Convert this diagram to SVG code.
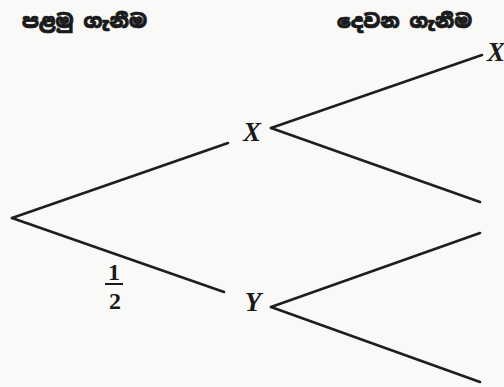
<svg xmlns="http://www.w3.org/2000/svg" width="504" height="387" viewBox="0 0 504 387">
<style>
.edge{stroke:#1e1e1e;stroke-width:2.6;fill:none;stroke-linecap:round}
.lbl{font-family:"Liberation Serif","Times New Roman",serif;font-style:italic;font-weight:bold;font-size:27px;fill:#1a1a1a}
.num{font-family:"Liberation Serif","Times New Roman",serif;font-weight:bold;font-size:24px;fill:#1a1a1a}
.head{font-family:"Noto Sans Sinhala","Noto Serif Sinhala","Iskoola Pota",sans-serif;font-weight:900;font-size:19px;fill:#1a1a1a;stroke:#1a1a1a;stroke-width:0.7}
</style>
<rect width="504" height="387" fill="#f9f9f7"/>
<g id="headings">
<text class="head" x="22" y="28" textLength="125" lengthAdjust="spacingAndGlyphs">පළමු ගැනීම</text>
<text class="head" x="337" y="28" textLength="135" lengthAdjust="spacingAndGlyphs">දෙවන ගැනීම</text>
</g>
<g id="connectors">
<line class="edge" x1="12" y1="218" x2="228" y2="143"/>
<line class="edge" x1="12" y1="218" x2="224" y2="292"/>
<line class="edge" x1="271" y1="128" x2="482" y2="55"/>
<line class="edge" x1="271" y1="128" x2="480" y2="202"/>
<line class="edge" x1="271" y1="307" x2="480" y2="233"/>
<line class="edge" x1="271" y1="307" x2="480" y2="382"/>
<text class="num" x="114" y="280" text-anchor="middle">1</text>
<line x1="105" y1="284" x2="123" y2="284" stroke="#1a1a1a" stroke-width="2"/>
<text class="num" x="115" y="309" text-anchor="middle">2</text>
</g>
<g id="node-X"><text class="lbl" x="252" y="141" text-anchor="middle">X</text></g>
<g id="node-Y"><text class="lbl" x="253" y="311" text-anchor="middle">Y</text></g>
<g id="node-XX"><text class="lbl" x="487" y="61">X</text></g>
</svg>
